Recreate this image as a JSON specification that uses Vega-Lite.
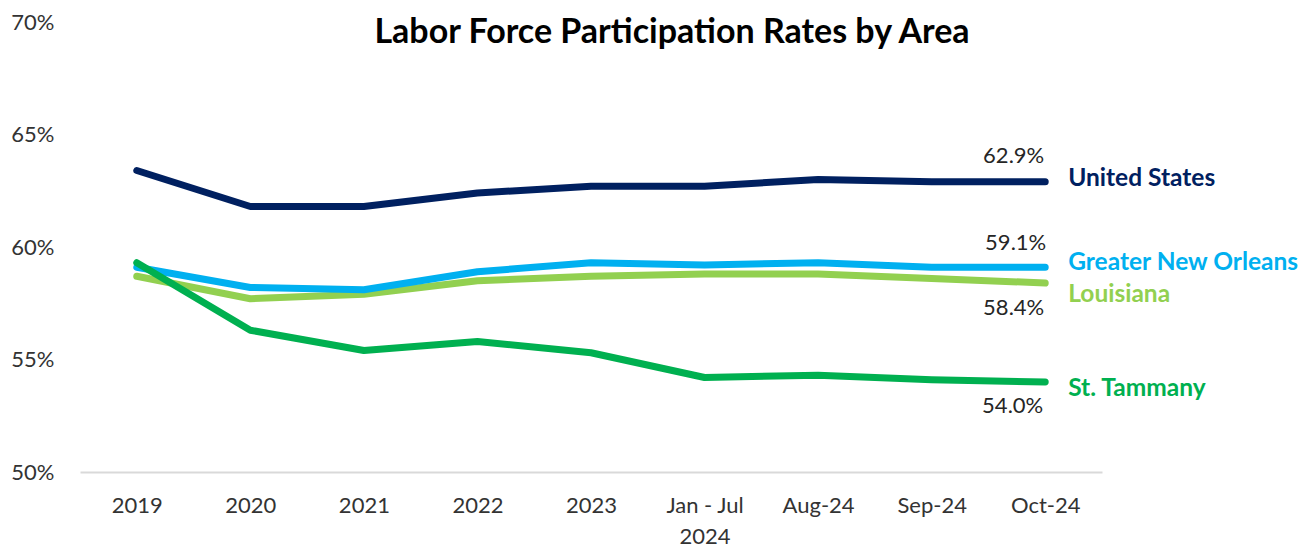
{
  "$schema": "https://vega.github.io/schema/vega-lite/v6.json",
  "width": 1022,
  "height": 450,
  "autosize": {"type": "none"},
  "padding": {"left": 80, "top": 22, "right": 210, "bottom": 78},
  "background": "white",
  "config": {"view": {"stroke": null}, "font": "Lato"},
  "title": {
    "text": "Labor Force Participation Rates by Area",
    "fontSize": 34,
    "fontWeight": "bold",
    "font": "Lato",
    "color": "#000000",
    "anchor": "middle",
    "baseline": "alphabetic",
    "offset": 0,
    "dy": 66,
    "dx": 81
  },
  "data": {
    "values": [
      {"period": "2019", "series": "Louisiana", "rate": 58.7},
      {"period": "2020", "series": "Louisiana", "rate": 57.7},
      {"period": "2021", "series": "Louisiana", "rate": 57.9},
      {"period": "2022", "series": "Louisiana", "rate": 58.5},
      {"period": "2023", "series": "Louisiana", "rate": 58.7},
      {"period": "Jan - Jul 2024", "series": "Louisiana", "rate": 58.8},
      {"period": "Aug-24", "series": "Louisiana", "rate": 58.8},
      {"period": "Sep-24", "series": "Louisiana", "rate": 58.6},
      {"period": "Oct-24", "series": "Louisiana", "rate": 58.4},
      {"period": "2019", "series": "Greater New Orleans", "rate": 59.1},
      {"period": "2020", "series": "Greater New Orleans", "rate": 58.2},
      {"period": "2021", "series": "Greater New Orleans", "rate": 58.1},
      {"period": "2022", "series": "Greater New Orleans", "rate": 58.9},
      {"period": "2023", "series": "Greater New Orleans", "rate": 59.3},
      {"period": "Jan - Jul 2024", "series": "Greater New Orleans", "rate": 59.2},
      {"period": "Aug-24", "series": "Greater New Orleans", "rate": 59.3},
      {"period": "Sep-24", "series": "Greater New Orleans", "rate": 59.1},
      {"period": "Oct-24", "series": "Greater New Orleans", "rate": 59.1},
      {"period": "2019", "series": "United States", "rate": 63.4},
      {"period": "2020", "series": "United States", "rate": 61.8},
      {"period": "2021", "series": "United States", "rate": 61.8},
      {"period": "2022", "series": "United States", "rate": 62.4},
      {"period": "2023", "series": "United States", "rate": 62.7},
      {"period": "Jan - Jul 2024", "series": "United States", "rate": 62.7},
      {"period": "Aug-24", "series": "United States", "rate": 63.0},
      {"period": "Sep-24", "series": "United States", "rate": 62.9},
      {"period": "Oct-24", "series": "United States", "rate": 62.9},
      {"period": "2019", "series": "St. Tammany", "rate": 59.3},
      {"period": "2020", "series": "St. Tammany", "rate": 56.3},
      {"period": "2021", "series": "St. Tammany", "rate": 55.4},
      {"period": "2022", "series": "St. Tammany", "rate": 55.8},
      {"period": "2023", "series": "St. Tammany", "rate": 55.3},
      {"period": "Jan - Jul 2024", "series": "St. Tammany", "rate": 54.2},
      {"period": "Aug-24", "series": "St. Tammany", "rate": 54.3},
      {"period": "Sep-24", "series": "St. Tammany", "rate": 54.1},
      {"period": "Oct-24", "series": "St. Tammany", "rate": 54.0}
    ]
  },
  "encoding": {
    "x": {
      "field": "period",
      "type": "ordinal",
      "sort": null,
      "scale": {"type": "point", "padding": 0.5},
      "axis": {
        "title": null,
        "labelAngle": 0,
        "ticks": false,
        "domainColor": "#d9d9d9",
        "domainWidth": 2,
        "labelFontSize": 22,
        "labelColor": "#333333",
        "labelPadding": 23,
        "labelLineHeight": 31,
        "labelExpr": "datum.value == 'Jan - Jul 2024' ? ['Jan - Jul', '2024'] : datum.value"
      }
    },
    "y": {
      "field": "rate",
      "type": "quantitative",
      "scale": {"domain": [50, 70], "nice": false, "zero": false},
      "axis": {
        "title": null,
        "values": [50, 55, 60, 65, 70],
        "labelExpr": "datum.value + '%'",
        "domain": false,
        "ticks": false,
        "grid": false,
        "labelFontSize": 22,
        "labelColor": "#333333",
        "labelPadding": 26
      }
    }
  },
  "layer": [
    {
      "mark": {"type": "line", "strokeWidth": 7, "strokeCap": "round", "strokeJoin": "round"},
      "encoding": {
        "color": {
          "field": "series",
          "type": "nominal",
          "scale": {
            "domain": ["United States", "Greater New Orleans", "Louisiana", "St. Tammany"],
            "range": ["#002060", "#00B0F0", "#92D050", "#00B050"]
          },
          "legend": null
        }
      }
    },
    {
      "transform": [{"filter": "datum.period == 'Oct-24' && datum.series == 'United States'"}],
      "mark": {"type": "text", "align": "right", "baseline": "middle", "dx": -1, "dy": -26, "fontSize": 22, "color": "#262626", "text": {"expr": "format(datum.rate, '.1f') + '%'"}}
    },
    {
      "transform": [{"filter": "datum.period == 'Oct-24' && datum.series == 'Greater New Orleans'"}],
      "mark": {"type": "text", "align": "right", "baseline": "middle", "dx": 1, "dy": -24, "fontSize": 22, "color": "#262626", "text": {"expr": "format(datum.rate, '.1f') + '%'"}}
    },
    {
      "transform": [{"filter": "datum.period == 'Oct-24' && datum.series == 'Louisiana'"}],
      "mark": {"type": "text", "align": "right", "baseline": "middle", "dx": -1, "dy": 25, "fontSize": 22, "color": "#262626", "text": {"expr": "format(datum.rate, '.1f') + '%'"}}
    },
    {
      "transform": [{"filter": "datum.period == 'Oct-24' && datum.series == 'St. Tammany'"}],
      "mark": {"type": "text", "align": "right", "baseline": "middle", "dx": -2, "dy": 24, "fontSize": 22, "color": "#262626", "text": {"expr": "format(datum.rate, '.1f') + '%'"}}
    },
    {
      "transform": [{"filter": "datum.period == 'Oct-24' && datum.series == 'United States'"}],
      "mark": {"type": "text", "align": "left", "baseline": "middle", "dx": 23, "dy": -3, "fontSize": 24.5, "fontWeight": "bold", "color": "#002060"},
      "encoding": {"text": {"field": "series"}}
    },
    {
      "transform": [{"filter": "datum.period == 'Oct-24' && datum.series == 'Greater New Orleans'"}],
      "mark": {"type": "text", "align": "left", "baseline": "middle", "dx": 23, "dy": -4, "fontSize": 24.5, "fontWeight": "bold", "color": "#00B0F0"},
      "encoding": {"text": {"field": "series"}}
    },
    {
      "transform": [{"filter": "datum.period == 'Oct-24' && datum.series == 'Louisiana'"}],
      "mark": {"type": "text", "align": "left", "baseline": "middle", "dx": 23, "dy": 12, "fontSize": 24.5, "fontWeight": "bold", "color": "#92D050"},
      "encoding": {"text": {"field": "series"}}
    },
    {
      "transform": [{"filter": "datum.period == 'Oct-24' && datum.series == 'St. Tammany'"}],
      "mark": {"type": "text", "align": "left", "baseline": "middle", "dx": 23, "dy": 7, "fontSize": 24.5, "fontWeight": "bold", "color": "#00B050"},
      "encoding": {"text": {"field": "series"}}
    }
  ]
}
